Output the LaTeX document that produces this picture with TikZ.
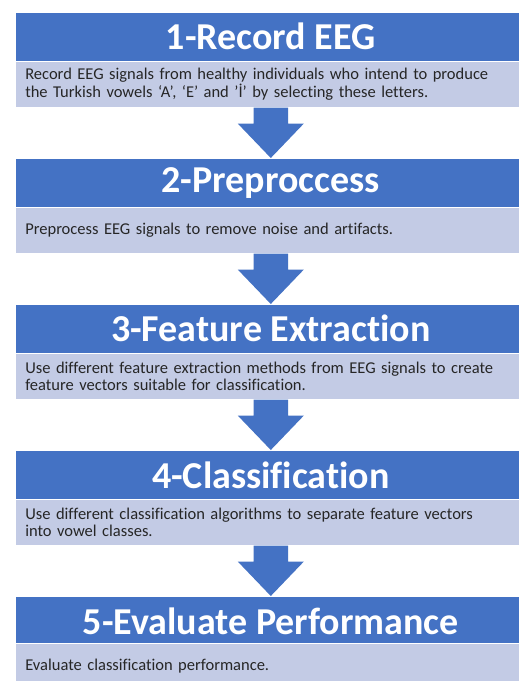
\documentclass[tikz,border=0pt]{standalone}
\usepackage{fontspec}
\setmainfont[Ligatures={NoCommon}]{Carlito}
\usetikzlibrary{calc}
\definecolor{titleblue}{HTML}{4472C4}
\definecolor{descblue}{HTML}{C3CBE5}
\definecolor{txtdark}{HTML}{262626}
\tikzset{
  titlebox/.style={rectangle, anchor=north west, inner sep=0pt, minimum width=511pt, minimum height=49pt,
    fill=titleblue, draw=white, line width=0.6pt, text=white, font=\fontsize{38}{40}\selectfont\bfseries},
  descbox/.style={rectangle, anchor=north west, inner xsep=10pt, inner ysep=0pt, minimum width=511pt, minimum height=46pt,
    text width=491pt, align=left, fill=descblue, draw=white, line width=0.6pt, text=txtdark,
    font=\fontsize{16.5}{17.5}\selectfont},
  flowarrow/.style={fill=titleblue}
}
\newcommand{\downarrowshape}[2]{%
  \fill[flowarrow] ($(#1.south)+(-17.3,0)$) -- ($(#1.south)+(17.3,0)$) -- ($(#1.south)+(17.3,16)$)
    -- ($(#1.south)+(33,16)$) -- (#2.north) -- ($(#1.south)+(-33,16)$) -- ($(#1.south)+(-17.3,16)$) -- cycle;}
\begin{document}
\begin{tikzpicture}[x=1pt,y=-1pt]
\useasboundingbox (0,0) rectangle (519,681);
\clip (0,0) rectangle (519,681);
\fill[white] (0,0) rectangle (519,681);
\node[titlebox] (t1) at (15,12) {1-Record EEG};
\node[descbox] (d1) at (15,61) {Record EEG signals from healthy individuals who intend to produce\\the Turkish vowels ‘A’, ‘E’ and 'İ’ by selecting these letters.};
\node[titlebox] (t2) at (15,158) {2-Preproccess};
\node[descbox] (d2) at (15,207) {Preprocess EEG signals to remove noise and artifacts.};
\node[titlebox] (t3) at (15,304) {3-Feature Extraction};
\node[descbox] (d3) at (15,353) {Use different feature extraction methods from EEG signals to create\\feature vectors suitable for classification.};
\node[titlebox] (t4) at (15,450) {4-Classification};
\node[descbox] (d4) at (15,499) {Use different classification algorithms to separate feature vectors\\into vowel classes.};
\node[titlebox] (t5) at (15,596) {5-Evaluate Performance};
\node[descbox] (d5) at (15,643) {Evaluate classification performance.};
\downarrowshape{d1}{t2}
\downarrowshape{d2}{t3}
\downarrowshape{d3}{t4}
\downarrowshape{d4}{t5}
\end{tikzpicture}
\end{document}
